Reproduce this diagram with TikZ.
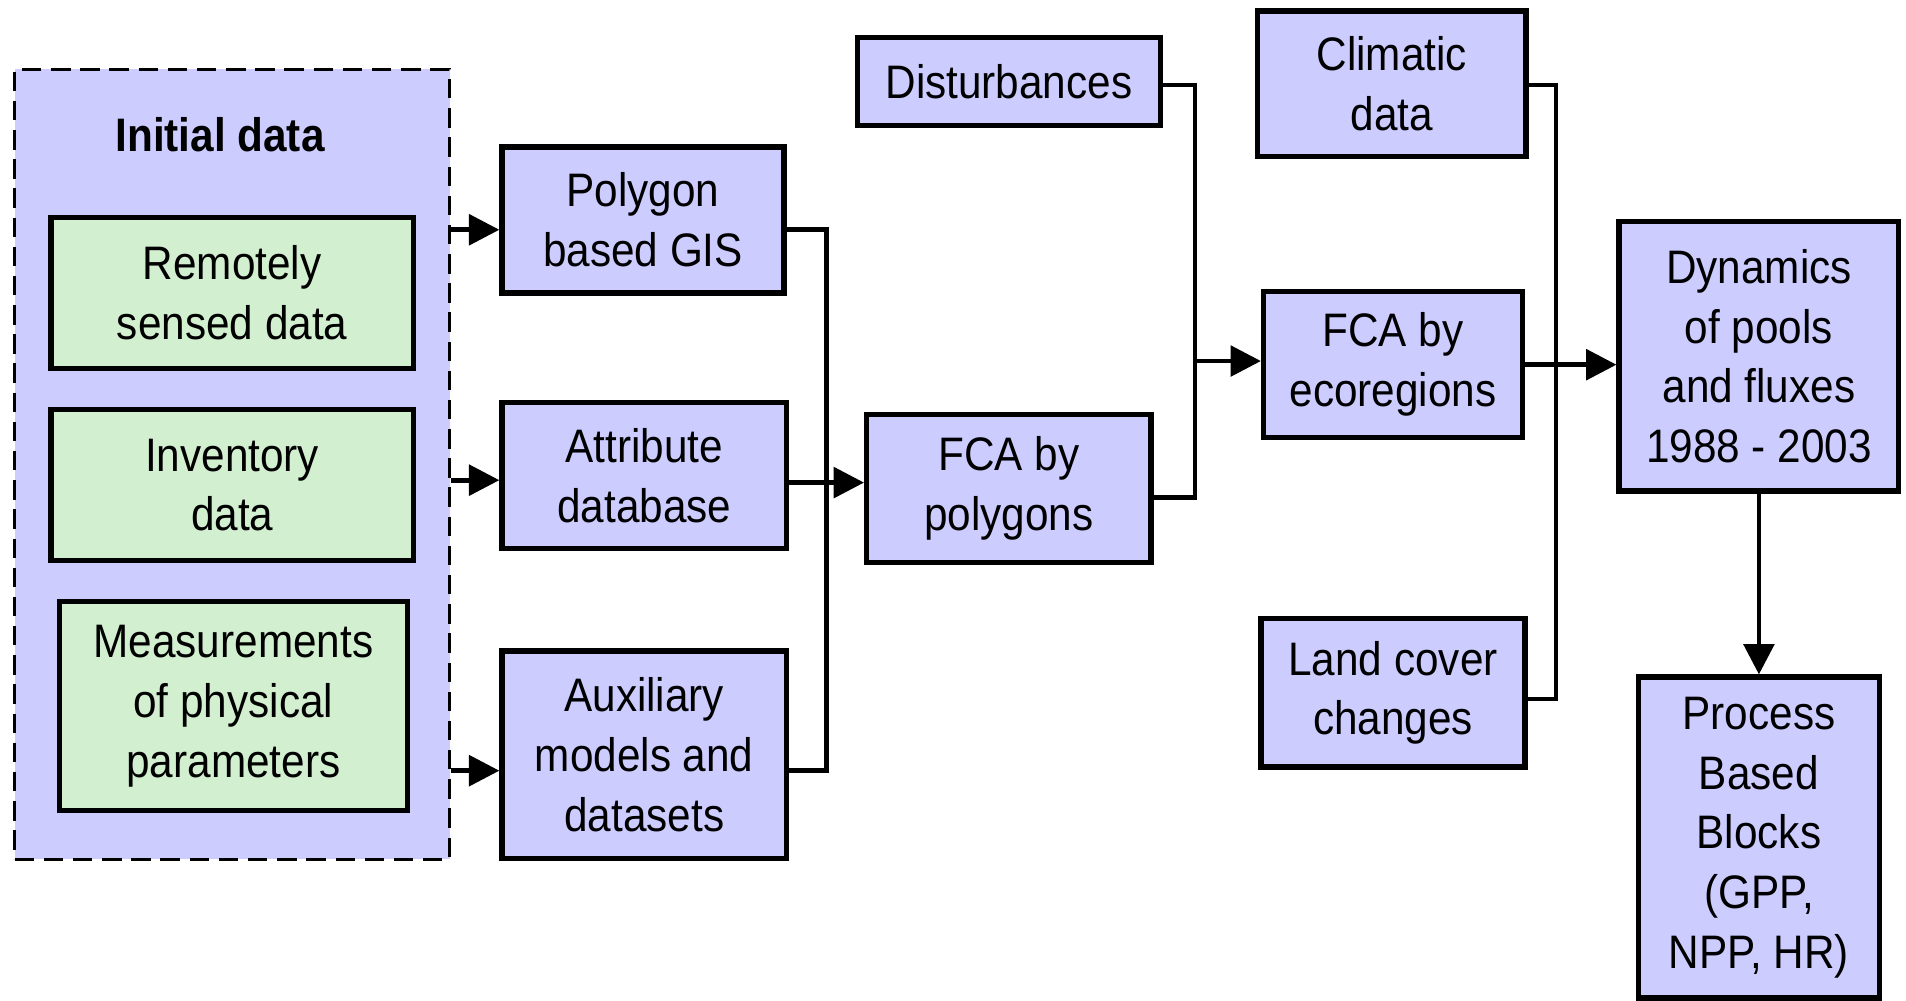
\documentclass[tikz,border=0pt]{standalone}
\usepackage{fontspec}
\setmainfont{Liberation Sans}[FakeStretch=0.9]
\usepackage{xcolor}
\usetikzlibrary{arrows.meta}
\definecolor{boxblue}{RGB}{204,204,255}
\definecolor{boxgreen}{RGB}{210,240,208}

\begin{document}
\begin{tikzpicture}[
  x=0.2mm, y=-0.2mm,
  box/.style={draw, line width=2.5pt, fill=boxblue, align=center, inner sep=0pt,
              font={\fontsize{22pt}{28pt}\selectfont}},
  databox/.style={box, fill=boxgreen},
  frame/.style={draw, line width=1.6pt, dash pattern=on 3.2mm off 1.6mm,
                fill=boxblue, inner sep=0pt},
  link/.style={line width=2.2pt},
  arr/.style={link, -{Triangle[length=5mm, width=5mm]}}
]
\useasboundingbox (0,0) rectangle (1568,823);

\node[frame, minimum width=71.6mm, minimum height=130mm] (init) at (191,382) {};
\node[font={\bfseries\fontsize{22pt}{28pt}\selectfont}] (title) at (181,111) {Initial data};
\node[databox, minimum width=59.6mm, minimum height=24.8mm] (rs)   at (191,241) {Remotely\\sensed data};
\node[databox, minimum width=59.6mm, minimum height=24.8mm] (inv)  at (191,399) {Inventory\\data};
\node[databox, minimum width=57.2mm, minimum height=34.4mm] (meas) at (192,581) {Measurements\\of physical\\parameters};

\node[box, minimum width=46.4mm, minimum height=24mm]   (poly) at (529,181) {Polygon\\based GIS};
\node[box, minimum width=46.8mm, minimum height=24mm]   (attr) at (530,391) {Attribute\\database};
\node[box, minimum width=46.8mm, minimum height=34.2mm] (aux)  at (530,621) {Auxiliary\\models and\\datasets};
\node[box, minimum width=46.8mm, minimum height=24.4mm] (fcap) at (830,402) {FCA by\\polygons};
\node[box, minimum width=49.8mm, minimum height=14.4mm] (dist) at (830,67)  {Disturbances};
\node[box, minimum width=44.2mm, minimum height=24mm]   (clim) at (1145,69) {Climatic\\data};
\node[box, minimum width=42.6mm, minimum height=24mm]   (fcae) at (1146,300) {FCA by\\ecoregions};
\node[box, minimum width=43.4mm, minimum height=24.4mm] (land) at (1146,570) {Land cover\\changes};
\node[box, minimum width=46mm, minimum height=44.4mm]   (dyn)  at (1447,293) {Dynamics\\of pools\\and fluxes\\1988 - 2003};
\node[box, minimum width=39.6mm, minimum height=52.8mm] (proc) at (1447,689) {Process\\Based\\Blocks\\(GPP,\\NPP, HR)};

\coordinate (b1) at (680,189);
\coordinate (b2) at (680,634);
\coordinate (b3) at (680,397);
\coordinate (a2) at (0,395);
\coordinate (c1) at (983,70);
\coordinate (c2) at (983,409);
\coordinate (c3) at (983,297);
\coordinate (d1) at (1280,70);
\coordinate (d2) at (1280,575);
\coordinate (d3) at (1280,300);

\foreach \t/\c in {poly/b1, attr/a2, aux/b2}
  \draw[arr] (init.east |- \c) -- (\t.west |- \c);

\draw[link] (poly.east |- b1) -- (b1) -- (b2) -- (aux.east |- b2);
\draw[arr] (attr.east |- b3) -- (fcap.west |- b3);

\draw[link] (dist.east |- c1) -- (c1) -- (c2) -- (fcap.east |- c2);
\draw[arr] (c3) -- (fcae.west |- c3);

\draw[link] (clim.east |- d1) -- (d1) -- (d2) -- (land.east |- d2);
\draw[arr] (fcae.east |- d3) -- (dyn.west |- d3);

\draw[arr] (dyn.south) -- (proc.north);

\end{tikzpicture}
\end{document}
